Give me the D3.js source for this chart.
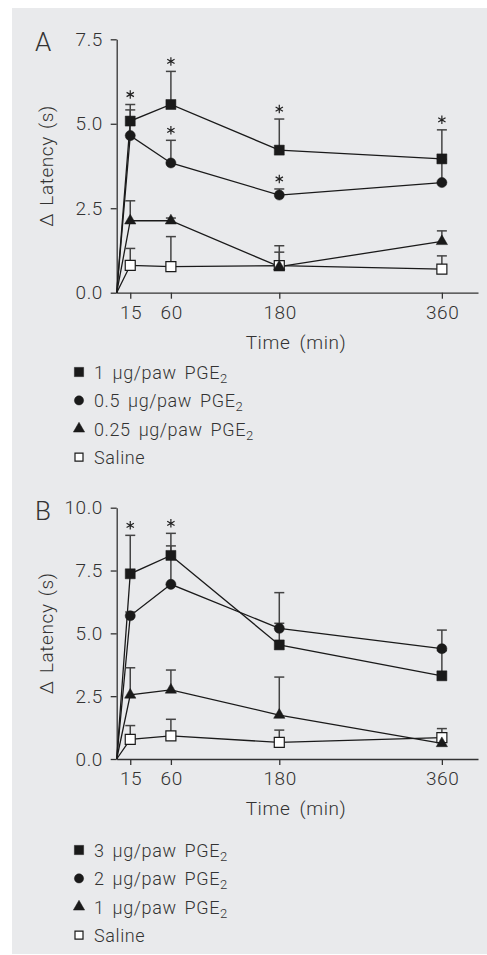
<!DOCTYPE html>
<html>
<head>
<meta charset="utf-8">
<script src="https://cdn.jsdelivr.net/npm/d3@7"></script>
<style>
body { margin: 0; background: #fff; }
text { font-family: Roboto, "Liberation Sans", Arial, sans-serif; font-weight: 300; fill: #333; letter-spacing: 0.6px; }
</style>
</head>
<body>
<svg width="487" height="955"></svg>
<script>
// shared x values and ticks
var times = [15, 60, 180, 360];
var xTicks = [15, 60, 180, 360];
var yTicksA = [0, 2.5, 5, 7.5];
var yTicksB = [0, 2.5, 5, 7.5, 10];

// panel A : mean and SEM (upper bar only)
var aNames = ["1 µg/paw PGE", "0.5 µg/paw PGE", "0.25 µg/paw PGE", "Saline"];
var aSubs = ["2", "2", "2", ""];
var aHigh = [5.08, 5.57, 4.22, 3.96];
var aHighSem = [0.49, 0.98, 0.92, 0.86];
var aMid = [4.65, 3.84, 2.89, 3.26];
var aMidSem = [0.76, 0.67, 0.18, 0.69];
var aLow = [2.13, 2.13, 0.77, 1.52];
var aLowSem = [0.59, 0.08, 0.62, 0.31];
var aSal = [0.81, 0.77, 0.80, 0.70];
var aSalSem = [0.50, 0.89, 0.40, 0.39];
var aHighStars = [1, 1, 1, 1];
var aMidStars = [0, 1, 1, 0];

// panel B
var bNames = ["3 µg/paw PGE", "2 µg/paw PGE", "1 µg/paw PGE", "Saline"];
var bSubs = ["2", "2", "2", ""];
var bHigh = [7.37, 8.10, 4.54, 3.31];
var bHighSem = [1.53, 0.88, 0.86, 1.00];
var bMid = [5.70, 6.95, 5.20, 4.39];
var bMidSem = [0.15, 1.53, 1.42, 0.74];
var bLow = [2.55, 2.75, 1.75, 0.62];
var bLowSem = [1.08, 0.79, 1.51, 0.08];
var bSal = [0.78, 0.92, 0.66, 0.85];
var bSalSem = [0.55, 0.66, 0.49, 0.36];
var bHighStars = [1, 1, 0, 0];

var svg = d3.select("svg");

svg.append("rect")
	.attr("x", 12).attr("y", 8)
	.attr("width", 475).attr("height", 946)
	.attr("fill", "#e9eaec");

var shapes = [d3.symbolSquare, d3.symbolCircle, d3.symbolTriangle, d3.symbolSquare];
var sizes = [100, 80, 55, 100];
var fills = ["#1a1a1a", "#1a1a1a", "#1a1a1a", "#fff"];

function makeSeries(means, sems, stars) {
	return times.map(function(t, i) {
		return { t: t, v: means[i], e: sems[i], star: stars ? stars[i] : 0 };
	});
}

function drawPanel(p) {
	var x = d3.scaleLinear().domain([0, 400]).range([116.7, 478]);
	var y = d3.scaleLinear().domain([0, p.yMax]).range([p.y0, p.yTop]);

	var g = svg.append("g");

	g.append("g")
		.attr("transform", "translate(116.7,0)")
		.call(d3.axisLeft(y).tickValues(p.yTicks).tickFormat(d3.format(".1f")).tickSize(6).tickSizeOuter(0).tickPadding(8))
		.call(function(a) {
			a.selectAll("text").style("font-size", "19px").attr("fill", "#333").attr("font-family", null);
			a.selectAll("line, path").attr("stroke", "#333").attr("stroke-width", 1.3);
		});

	g.append("g")
		.attr("transform", "translate(0," + p.y0 + ")")
		.call(d3.axisBottom(x).tickValues(xTicks).tickSize(6).tickSizeOuter(0).tickPadding(7))
		.call(function(a) {
			a.selectAll("text").style("font-size", "19px").attr("fill", "#333");
			a.selectAll("line, path").attr("stroke", "#333").attr("stroke-width", 1.3);
		});
	g.selectAll(".tick text").attr("dx", "0.3px");
	svg.selectAll("g[font-family]").attr("font-family", null);

	g.append("text")
		.attr("x", 35).attr("y", p.yTop + 12)
		.style("font-size", "26px")
		.attr("fill", "#222")
		.text(p.letter);

	g.append("text")
		.attr("transform", "translate(53," + ((p.y0 + p.yTop) / 2) + ") rotate(-90)")
		.attr("text-anchor", "middle")
		.style("font-size", "19px")
		.style("word-spacing", "2px")
		.text("Δ Latency (s)");

	g.append("text")
		.attr("x", 296).attr("y", p.y0 + 56)
		.attr("text-anchor", "middle")
		.style("font-size", "19px")
		.style("word-spacing", "4px")
		.text("Time (min)");

	var line = d3.line()
		.x(function(d) { return x(d.t); })
		.y(function(d) { return y(d.v); });

	// saline first so filled marks sit on top
	var order = [3, 2, 1, 0];
	order.forEach(function(k) {
		var s = p.series[k];
		g.append("path")
			.datum([{ t: 0, v: 0 }].concat(s))
			.attr("d", line)
			.attr("fill", "none")
			.attr("stroke", "#1a1a1a")
			.attr("stroke-width", 1.3);
	});

	order.forEach(function(k) {
		var s = p.series[k];
		var eb = g.append("g").selectAll("g")
			.data(s)
			.enter().append("g")
			.attr("stroke", "#444")
			.attr("stroke-width", 1.5);
		eb.append("line")
			.attr("x1", function(d) { return x(d.t); })
			.attr("x2", function(d) { return x(d.t); })
			.attr("y1", function(d) { return y(d.v); })
			.attr("y2", function(d) { return y(d.v + d.e); });
		eb.append("line")
			.attr("x1", function(d) { return x(d.t) - 5; })
			.attr("x2", function(d) { return x(d.t) + 5; })
			.attr("y1", function(d) { return y(d.v + d.e); })
			.attr("y2", function(d) { return y(d.v + d.e); });

		g.append("g").selectAll("path")
			.data(s.filter(function(d) { return d.star; }))
			.enter().append("path")
			.attr("transform", function(d) { return "translate(" + x(d.t) + "," + (y(d.v + d.e) - 10) + ")"; })
			.attr("d", d3.symbol().type(d3.symbolAsterisk).size(50))
			.attr("fill", "none")
			.attr("stroke", "#222")
			.attr("stroke-width", 1.2);
	});

	order.forEach(function(k) {
		var s = p.series[k];
		g.append("g").selectAll("path")
			.data(s)
			.enter().append("path")
			.attr("transform", function(d) { return "translate(" + x(d.t) + "," + y(d.v) + ")"; })
			.attr("d", d3.symbol().type(shapes[k]).size(sizes[k]))
			.attr("fill", fills[k])
			.attr("stroke", "#1a1a1a")
			.attr("stroke-width", k == 3 ? 1.2 : 0.5);
	});

	// legend
	var leg = g.append("g").selectAll("g")
		.data(p.names)
		.enter().append("g")
		.attr("transform", function(d, i) { return "translate(79," + (p.legY + i * 28.4) + ")"; });
	leg.append("path")
		.attr("d", function(d, i) { return d3.symbol().type(shapes[i]).size(i == 3 ? 64 : (i == 1 ? 66 : sizes[i] * (i == 2 ? 1 : 0.85)))(); })
		.attr("fill", function(d, i) { return fills[i]; })
		.attr("stroke", "#1a1a1a")
		.attr("stroke-width", function(d, i) { return i == 3 ? 1.2 : 0.5; });
	var lt = leg.append("text")
		.attr("x", 15).attr("y", 7)
		.style("font-size", "18px")
		.style("word-spacing", "3px")
		.text(function(d) { return d; });
	lt.append("tspan")
		.attr("dy", 4)
		.style("font-size", "13px")
		.text(function(d, i) { return p.subs[i]; });
}

drawPanel({
	letter: "A",
	yMax: 7.5, y0: 292.7, yTop: 39.3, yTicks: yTicksA,
	legY: 372,
	names: aNames, subs: aSubs,
	series: [
		makeSeries(aHigh, aHighSem, aHighStars),
		makeSeries(aMid, aMidSem, aMidStars),
		makeSeries(aLow, aLowSem),
		makeSeries(aSal, aSalSem)
	]
});

drawPanel({
	letter: "B",
	yMax: 10, y0: 759, yTop: 507.7, yTicks: yTicksB,
	legY: 850,
	names: bNames, subs: bSubs,
	series: [
		makeSeries(bHigh, bHighSem, bHighStars),
		makeSeries(bMid, bMidSem),
		makeSeries(bLow, bLowSem),
		makeSeries(bSal, bSalSem)
	]
});
</script>
</body>
</html>
